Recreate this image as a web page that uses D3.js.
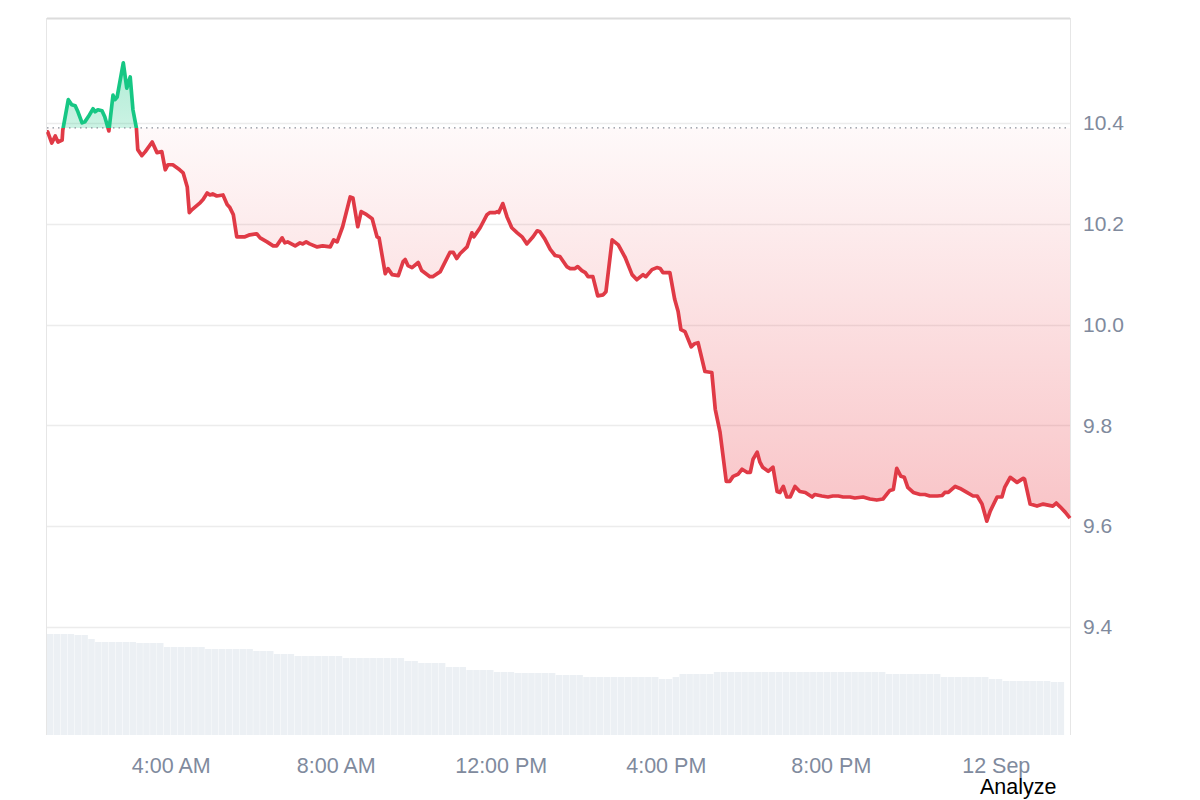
<!DOCTYPE html>
<html>
<head>
<meta charset="utf-8">
<script src="https://cdn.jsdelivr.net/npm/d3@7"></script>
<style>
  html, body { margin: 0; padding: 0; background: #fff; }
  svg { display: block; font-family: "Liberation Sans", Arial, sans-serif; }
</style>
</head>
<body>
<svg id="chart" width="1200" height="800"></svg>
<script>
// ---- DATA ----
const times = ["01:00","01:01","01:07","01:12","01:16","01:22","01:23","01:31","01:36","01:41","01:45","01:51","01:55","02:00","02:07","02:10","02:14","02:20","02:24","02:30","02:36","02:39","02:42","02:51","02:56","03:01","03:05","03:10","03:12","03:18","03:23","03:33","03:40","03:47","03:52","03:56","04:03","04:13","04:18","04:24","04:27","04:31","04:43","04:47","04:53","04:57","05:01","05:07","05:16","05:22","05:26","05:31","05:36","05:41","05:48","05:55","06:05","06:10","06:20","06:29","06:34","06:42","06:46","06:50","07:01","07:08","07:12","07:17","07:22","07:33","07:41","07:52","07:57","08:02","08:10","08:21","08:25","08:32","08:37","08:45","08:53","09:00","09:03","09:12","09:16","09:22","09:31","09:38","09:41","09:45","09:51","10:00","10:05","10:17","10:21","10:32","10:46","10:51","10:56","11:01","11:11","11:18","11:21","11:30","11:40","11:44","11:52","11:55","11:57","12:03","12:09","12:16","12:24","12:31","12:38","12:47","12:53","12:57","13:04","13:12","13:19","13:26","13:36","13:41","13:48","13:52","13:58","14:03","14:07","14:14","14:21","14:29","14:33","14:42","14:51","15:01","15:11","15:18","15:27","15:31","15:40","15:47","15:52","15:56","16:06","16:13","16:18","16:22","16:28","16:37","16:42","16:47","16:57","17:07","17:12","17:19","17:28","17:33","17:38","17:45","17:51","17:58","18:03","18:07","18:13","18:17","18:21","18:29","18:36","18:42","18:46","18:51","18:56","19:01","19:08","19:15","19:23","19:33","19:37","19:47","19:56","20:03","20:11","20:18","20:28","20:35","20:47","20:57","21:07","21:16","21:26","21:31","21:36","21:42","21:47","21:52","22:00","22:10","22:17","22:24","22:35","22:42","22:46","22:51","23:01","23:08","23:18","23:27","23:33","23:40","23:47","23:52","00:02","00:09","00:13","00:21","00:31","00:40","00:42","00:50","01:00","01:09","01:16","01:23","01:28","01:34","01:41","01:48"];
const prices = [10.382,10.382,10.360,10.374,10.362,10.366,10.386,10.446,10.436,10.434,10.422,10.400,10.402,10.412,10.428,10.422,10.426,10.424,10.412,10.384,10.455,10.446,10.451,10.519,10.469,10.491,10.426,10.390,10.347,10.335,10.343,10.362,10.341,10.343,10.307,10.317,10.317,10.307,10.301,10.273,10.222,10.228,10.242,10.248,10.261,10.257,10.259,10.255,10.257,10.238,10.232,10.218,10.174,10.174,10.174,10.178,10.180,10.172,10.164,10.156,10.156,10.172,10.162,10.164,10.156,10.162,10.160,10.164,10.160,10.154,10.156,10.154,10.168,10.164,10.194,10.253,10.251,10.194,10.224,10.218,10.210,10.174,10.172,10.101,10.111,10.099,10.097,10.125,10.129,10.117,10.113,10.123,10.107,10.095,10.095,10.105,10.143,10.143,10.131,10.141,10.154,10.182,10.174,10.192,10.218,10.222,10.222,10.224,10.222,10.240,10.214,10.192,10.182,10.174,10.160,10.174,10.186,10.184,10.170,10.149,10.137,10.135,10.115,10.111,10.111,10.115,10.107,10.103,10.095,10.095,10.057,10.059,10.065,10.168,10.158,10.133,10.099,10.089,10.099,10.095,10.109,10.113,10.111,10.103,10.103,10.050,10.026,9.990,9.986,9.956,9.962,9.964,9.907,9.905,9.832,9.786,9.689,9.689,9.699,9.703,9.713,9.707,9.707,9.733,9.747,9.727,9.717,9.709,9.717,9.669,9.667,9.679,9.658,9.658,9.679,9.669,9.667,9.658,9.663,9.660,9.658,9.660,9.660,9.658,9.658,9.656,9.658,9.654,9.652,9.654,9.671,9.673,9.715,9.699,9.697,9.677,9.667,9.663,9.663,9.660,9.660,9.661,9.667,9.667,9.679,9.675,9.667,9.660,9.660,9.644,9.610,9.630,9.658,9.658,9.677,9.697,9.687,9.695,9.693,9.644,9.640,9.644,9.642,9.640,9.646,9.638,9.628,9.616];
const openPrice = 10.390;

// 10-minute volume bars starting at 01:00 (arbitrary units)
const volumes = [50.5,50.5,50.5,50.5,50,50,48,46.5,46.5,46.5,46.5,46.5,46.5,46,46,46,46,44,44,44,44,44,44,43,43,43,43,43,43,43,42,42,42,40.5,40.5,40.5,39.5,39.5,39.5,39.5,39.5,39.5,39.5,38.5,38.5,38.5,38.5,38.5,38.5,38.5,38.5,38.5,37,37,36,36,36,36,34,34,34,32.5,32.5,32.5,32.5,31.5,31.5,31.5,31,31,31,31,31,31,30,30,30,30,29,29,29,29,29,29,29,29,29,29,29,28,28,29,30.5,30.5,30.5,30.5,30.5,31.5,31.5,31.5,31.5,31.5,31.5,31.5,31.5,31.5,31.5,31.5,31.5,31.5,31.5,31.5,31.5,31.5,31.5,31.5,31.5,31.5,31.5,31.5,31.5,31.5,30.5,30.5,30.5,30.5,30.5,30.5,30.5,30.5,29,29,29,29,29,29,29,28,28,27,27,27,27,27,27,27,26.5,26.5];

const yTicks = [9.4, 9.6, 9.8, 10.0, 10.2, 10.4];
const xTickTimes = ["04:00","08:00","12:00","16:00","20:00","00:00"];
const xTickLabels = ["4:00 AM","8:00 AM","12:00 PM","4:00 PM","8:00 PM","12 Sep"];

// ---- parse times (roll over to next day) ----
function toDate(hhmm, dayOffset) {
  const [h, m] = hhmm.split(":").map(Number);
  return new Date(2024, 8, 11 + dayOffset, h, m);
}
let day = 0, prevMin = -1;
const data = times.map((t, i) => {
  const [h, m] = t.split(":").map(Number);
  const mins = h * 60 + m;
  if (mins < prevMin) day += 1;
  prevMin = mins;
  return { date: toDate(t, day), value: prices[i] };
});
const xTickDates = xTickTimes.map(t => toDate(t, t === "00:00" ? 1 : 0));
const volStart = toDate("01:00", 0);
const volData = volumes.map((v, i) => ({ date: new Date(volStart.getTime() + i * 10 * 60000), value: v }));

// ---- layout ----
const L = 47, R = 1070, T = 18, B = 735;
const svg = d3.select("#chart");

const x = d3.scaleTime()
  .domain([toDate("01:00", 0), toDate("01:48", 1)])
  .range([L, R]);
const y = d3.scaleLinear().domain([9.186, 10.608]).range([B, T]);
const yVol = d3.scaleLinear().domain([0, 50.5]).range([B, B - 101]);
const yBase = y(openPrice);

const defs = svg.append("defs");
const redGrad = defs.append("linearGradient").attr("id", "redGrad")
  .attr("gradientUnits", "userSpaceOnUse").attr("x1", 0).attr("x2", 0)
  .attr("y1", yBase).attr("y2", y(9.61));
redGrad.append("stop").attr("offset", 0).attr("stop-color", "#ea3943").attr("stop-opacity", 0.03);
redGrad.append("stop").attr("offset", 1).attr("stop-color", "#ea3943").attr("stop-opacity", 0.30);
const greenGrad = defs.append("linearGradient").attr("id", "greenGrad")
  .attr("gradientUnits", "userSpaceOnUse").attr("x1", 0).attr("x2", 0)
  .attr("y1", y(10.52)).attr("y2", yBase);
greenGrad.append("stop").attr("offset", 0).attr("stop-color", "#16c784").attr("stop-opacity", 0.35);
greenGrad.append("stop").attr("offset", 1).attr("stop-color", "#16c784").attr("stop-opacity", 0.22);

defs.append("clipPath").attr("id", "clipAbove").append("rect")
  .attr("x", L - 5).attr("y", T).attr("width", R - L + 10).attr("height", yBase - T);
defs.append("clipPath").attr("id", "clipBelow").append("rect")
  .attr("x", L - 5).attr("y", yBase).attr("width", R - L + 10).attr("height", B - yBase);
defs.append("clipPath").attr("id", "clipVol").append("rect")
  .attr("x", L).attr("y", T).attr("width", R - L - 2).attr("height", B - T);

// frame
svg.append("line").attr("x1", L).attr("x2", R).attr("y1", T + 0.5).attr("y2", T + 0.5)
  .attr("stroke", "#dcdcdc").attr("stroke-width", 2);
svg.append("line").attr("x1", L - 0.5).attr("x2", L - 0.5).attr("y1", T).attr("y2", B)
  .attr("stroke", "#e6e6e6").attr("stroke-width", 1);
svg.append("line").attr("x1", R + 0.5).attr("x2", R + 0.5).attr("y1", T).attr("y2", B)
  .attr("stroke", "#e6e6e6").attr("stroke-width", 1);

// gridlines
svg.append("g").selectAll("line").data(yTicks).join("line")
  .attr("x1", L).attr("x2", R)
  .attr("y1", d => Math.round(y(d)) + 0.5).attr("y2", d => Math.round(y(d)) + 0.5)
  .attr("stroke", "#ececec").attr("stroke-width", 1.5);

// volume bars
const barW = x(new Date(volStart.getTime() + 10 * 60000)) - x(volStart);
svg.append("g").attr("clip-path", "url(#clipVol)").selectAll("rect").data(volData).join("rect")
  .attr("x", d => x(d.date))
  .attr("width", barW - 0.4)
  .attr("y", d => yVol(d.value))
  .attr("height", d => B - yVol(d.value))
  .attr("fill", "#ecf0f4");

// areas
const area = d3.area().x(d => x(d.date)).y0(yBase).y1(d => y(d.value));
svg.append("path").datum(data).attr("d", area)
  .attr("fill", "url(#redGrad)").attr("clip-path", "url(#clipBelow)");
svg.append("path").datum(data).attr("d", area)
  .attr("fill", "url(#greenGrad)").attr("clip-path", "url(#clipAbove)");

// baseline (open)
svg.append("line").attr("x1", L).attr("x2", R).attr("y1", yBase).attr("y2", yBase)
  .attr("stroke", "#8a8f99").attr("stroke-width", 1.3).attr("stroke-dasharray", "1.5,4");

// lines
const line = d3.line().x(d => x(d.date)).y(d => y(d.value));
svg.append("path").datum(data).attr("d", line)
  .attr("fill", "none").attr("stroke", "#e03a46").attr("stroke-width", 3.7)
  .attr("stroke-linejoin", "round").attr("clip-path", "url(#clipBelow)");
svg.append("path").datum(data).attr("d", line)
  .attr("fill", "none").attr("stroke", "#16c784").attr("stroke-width", 3.7)
  .attr("stroke-linejoin", "round").attr("clip-path", "url(#clipAbove)");

// y axis (right)
const yAxis = d3.axisRight(y).tickValues(yTicks).tickSize(0).tickPadding(13)
  .tickFormat(d3.format(".1f"));
const gy = svg.append("g").attr("transform", `translate(${R},0)`).call(yAxis);
gy.select(".domain").remove();
gy.selectAll("text").attr("fill", "#808a9d").style("font-size", "21px")
  .style("font-family", "'Liberation Sans', Arial, sans-serif");

// x axis
const xAxis = d3.axisBottom(x).tickValues(xTickDates).tickSize(0).tickPadding(0)
  .tickFormat((d, i) => xTickLabels[i]);
const gx = svg.append("g").attr("transform", `translate(0,${B})`).call(xAxis);
gx.select(".domain").remove();
gx.selectAll("text").attr("fill", "#808a9d").attr("dy", null).attr("y", 38)
  .style("font-size", "21.5px").style("font-family", "'Liberation Sans', Arial, sans-serif");

// Analyze label
svg.append("text").attr("x", 980).attr("y", 794).text("Analyze")
  .attr("fill", "#000").style("font-size", "21.5px");
</script>
</body>
</html>
